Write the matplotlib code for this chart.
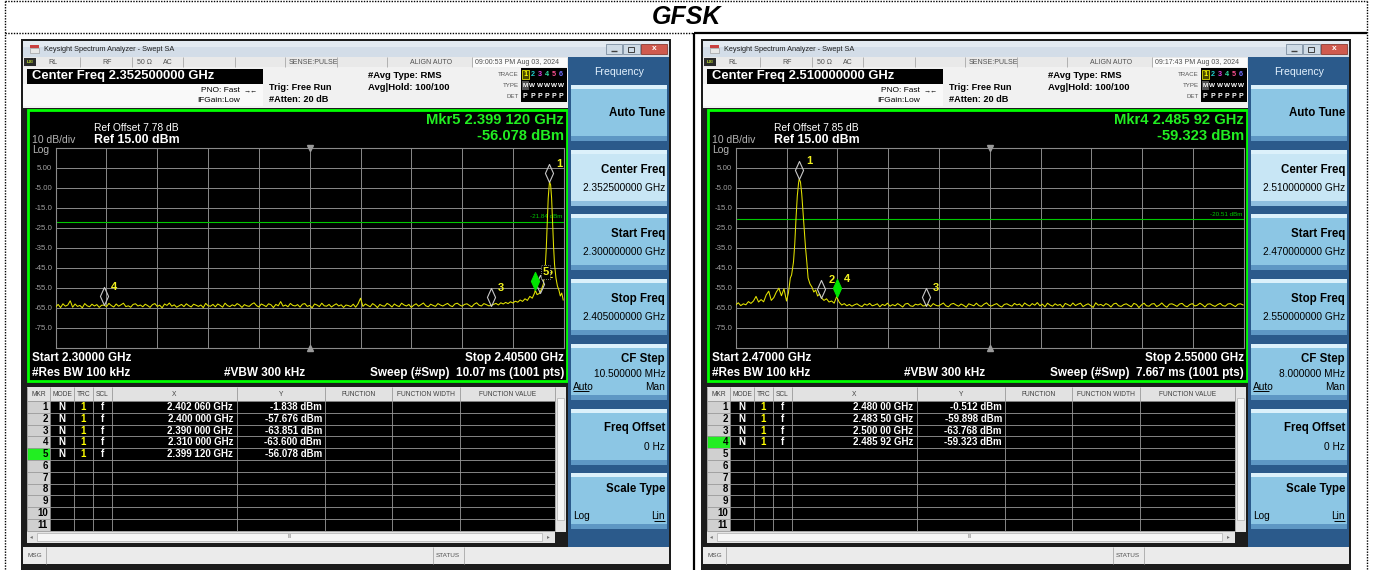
import numpy as np
import matplotlib
matplotlib.use('Agg')
import matplotlib.pyplot as plt
from matplotlib.patches import Rectangle
from matplotlib.path import Path

plt.rcParams['font.family'] = ['Liberation Sans', 'DejaVu Sans']

W, H = 1373, 570

# ------------------------------------------------------------------ data
header_title = "GFSK"

# ---- left capture (2.300 - 2.405 GHz)
left_start_ghz, left_stop_ghz, left_center_ghz = 2.300, 2.405, 2.3525
left_noise_step_ghz = 0.0005
left_noise_dbm = [
    -64.5, -63.2, -64.8, -62.9, -64.1, -63.5, -61.4, -64.6, -63.0, -64.2, -63.7, -64.9, -62.8, -63.9, -64.4, -63.1, -64.0, -63.3, -64.7, -63.6,
    -63.6, -64.3, -62.7, -63.8, -64.5, -63.0, -64.1, -63.4, -62.6, -64.3, -63.9, -64.6, -63.2, -62.9, -64.0, -63.5, -64.4, -63.1, -63.8, -64.7,
    -63.3, -62.8, -64.2, -63.6, -64.9, -63.0, -63.7, -62.5, -64.1, -63.4, -64.6, -63.9, -63.2, -64.3, -62.9, -63.8, -64.5, -63.1, -63.6, -64.2,
    -63.5, -64.8, -62.7, -63.9, -64.1, -63.2, -64.4, -63.0, -63.7, -64.6, -62.6, -63.8, -64.3, -63.4, -64.0, -62.8, -63.5, -64.7, -63.3, -63.9,
    -64.2, -63.1, -62.4, -63.8, -64.5, -63.0, -63.6, -64.3, -62.9, -63.4, -64.8, -63.2, -63.9, -61.8, -64.1, -63.5, -64.4, -62.7, -63.7, -64.0,
    -63.3, -64.6, -63.1, -62.8, -64.2, -63.7, -64.9, -63.0, -63.5, -64.3, -62.6, -63.9, -64.1, -63.2, -64.5, -63.6, -62.9, -64.0, -63.4, -64.7,
    -63.5, -63.8, -64.3, -63.1, -64.6, -62.9, -60.1, -64.2, -63.0, -63.7, -64.4, -62.8, -63.6, -64.8, -63.2, -63.9, -64.1, -62.7, -63.4, -64.5,
    -63.0, -63.8, -64.3, -62.6, -63.5, -64.0, -63.2, -64.7, -63.6, -62.9, -64.1, -63.3, -62.5, -63.9, -64.4, -63.1, -63.7, -64.2, -62.8, -63.5,
    -64.0, -63.3, -62.7, -63.8, -64.3, -63.0, -62.6, -63.5, -64.1, -63.2, -62.9, -63.7, -64.4, -63.1, -62.4, -63.6, -64.0, -62.8, -63.3, -63.9,
    -63.8, -63.2, -62.7, -63.5, -62.4, -63.0, -62.2, -62.8, -61.9, -62.5, -61.6, -62.1, -61.0, -61.7, -60.4, -61.2,
]
left_peak_ghz = [2.3980, 2.3985, 2.3990, 2.39912, 2.3995, 2.4000, 2.4005, 2.4008, 2.4010, 2.4012, 2.4014,
                 2.4016, 2.4018, 2.40206, 2.4023, 2.4025, 2.4027, 2.4029, 2.4031, 2.4034, 2.4037, 2.4040,
                 2.4043, 2.4046, 2.4049]
left_peak_dbm = [-59.2, -60.1, -57.4, -56.08, -58.3, -57.68, -55.0, -53.0, -48.0, -44.0, -35.0,
                 -22.0, -10.0, -1.84, -3.5, -10.0, -22.0, -34.0, -43.0, -50.0, -54.0, -56.0,
                 -59.0, -57.5, -61.0]
left_mkr_ghz = [2.402060, 2.400000, 2.390000, 2.310000, 2.399120]
left_mkr_dbm = [-1.838, -57.676, -63.851, -63.600, -56.078]
left_active = 5
left_ref_line = -21.84

# ---- right capture (2.470 - 2.550 GHz)
right_start_ghz, right_stop_ghz, right_center_ghz = 2.470, 2.550, 2.510
right_noise_step_ghz = 0.0004
right_lo_start_ghz = 2.4700
right_lo_dbm = [-63.5, -62.4, -63.8, -62.9, -63.4, -61.8, -62.7, -61.5, -59.2, -62.0, -60.8,
                -61.9, -58.5, -56.6, -61.2, -59.8, -57.0, -55.1, -58.9, -55.4, -61.5]
right_peak_ghz = [2.4783, 2.4786, 2.4788, 2.4791, 2.4793, 2.4795, 2.4797, 2.4799, 2.4800, 2.4802,
                  2.4804, 2.4806, 2.4808, 2.4810, 2.4812, 2.4814, 2.4817, 2.4820, 2.4823, 2.4826,
                  2.4829, 2.4832, 2.4835]
right_peak_dbm = [-57.5, -50.0, -48.5, -42.0, -33.0, -20.0, -9.0, -2.5, -0.51, -2.0,
                  -8.0, -17.0, -26.0, -35.0, -42.0, -50.0, -53.0, -54.5, -57.0, -56.0,
                  -59.0, -58.0, -59.9]
right_hi_start_ghz = 2.4839
right_hi_dbm = [
    -61.2, -60.4, -62.0, -61.5, -62.6, -59.3, -62.1, -63.5, -62.8, -63.9, -63.2, -64.1, -63.4, -62.9, -63.8, -64.3, -63.0, -63.6, -62.7, -63.9,
    -63.5, -62.9, -64.4, -63.2, -63.8, -62.6, -64.1, -63.3, -63.9, -62.8, -63.6, -64.5, -63.0, -62.7, -63.9, -64.2, -63.1, -63.5, -62.9, -64.0,
    -63.8, -63.2, -64.3, -62.8, -63.6, -64.0, -63.3, -62.5, -63.9, -64.4, -63.1, -62.7, -63.5, -64.1, -63.0, -63.7, -64.6, -62.9, -63.4, -63.9,
    -62.6, -63.8, -64.2, -63.1, -62.4, -63.7, -64.0, -63.3, -62.8, -63.9, -64.5, -63.2, -62.9, -63.6, -64.1, -62.7, -63.5, -63.0, -64.3, -62.5,
    -63.4, -64.0, -62.8, -63.6, -62.3, -63.9, -63.1, -64.4, -62.6, -63.5, -64.1, -62.9, -63.7, -63.2, -64.6, -62.7, -63.3, -64.0, -62.5, -63.8,
    -63.1, -62.6, -64.3, -63.5, -62.9, -63.8, -64.7, -62.4, -63.6, -63.2, -64.0, -62.8, -63.4, -64.5, -63.0, -62.6, -63.9, -64.2, -63.3, -62.9,
    -63.7, -64.4, -62.7, -63.2, -64.8, -63.5, -62.6, -63.9, -64.1, -63.0, -62.8, -64.3, -63.6, -62.5, -63.8, -64.6, -63.1, -62.9, -63.5, -64.2,
    -63.0, -62.7, -63.9, -64.4, -63.3, -62.8, -64.0, -63.6, -62.6, -63.4, -64.5, -63.1, -62.9, -63.7, -64.2, -63.3, -62.7, -63.8, -64.1, -63.0,
    -62.8, -63.6, -64.3, -63.1, -62.9, -63.5,
]
right_mkr_ghz = [2.48000, 2.48350, 2.50000, 2.48592]
right_mkr_dbm = [-0.512, -59.898, -63.768, -59.323]
right_active = 4
right_ref_line = -20.51

left_texts = dict(center="2.352500000 GHz", time="09:00:53 PM Aug 03, 2024", offset="7.78",
                  start="2.30000 GHz", stop="2.40500 GHz", sweep="10.07 ms (1001 pts)",
                  sk_start="2.300000000 GHz", sk_stop="2.405000000 GHz", cfstep="10.500000 MHz",
                  xdec=6)
right_texts = dict(center="2.510000000 GHz", time="09:17:43 PM Aug 03, 2024", offset="7.85",
                   start="2.47000 GHz", stop="2.55000 GHz", sweep="7.667 ms (1001 pts)",
                   sk_start="2.470000000 GHz", sk_stop="2.550000000 GHz", cfstep="8.000000 MHz",
                   xdec=5)

# ------------------------------------------------------------------ helpers
fig = plt.figure(figsize=(W / 100, H / 100), dpi=100)
fig.patch.set_facecolor('white')
bg = fig.add_axes([0, 0, 1, 1])
bg.set_xlim(0, W)
bg.set_ylim(H, 0)
bg.axis('off')
bg.set_zorder(0)


def R(x, y, w, h, fc, ec='none', lw=0.0, z=1):
    bg.add_patch(Rectangle((x, y), w, h, facecolor=fc, edgecolor=ec, linewidth=lw, zorder=z))


def T(x, y, s, size, color='black', weight='normal', ha='left', va='center', z=5, style='normal'):
    bg.text(x, y, s, fontsize=size, color=color, fontweight=weight, ha=ha, va=va,
            zorder=z, fontstyle=style)


def L(xs, ys, color, lw=0.6, z=3, ls='-'):
    bg.plot(xs, ys, color=color, lw=lw, zorder=z, ls=ls, solid_capstyle='butt')


def fmt_ghz(v, nd):
    s = f"{v:.{nd}f}"
    ip, fp = s.split('.')
    return f"{ip}.{fp[:3]} {fp[3:]}"


diamond = Path([(0, 0), (0.45, 1), (0, 2), (-0.45, 1), (0, 0)],
               [Path.MOVETO, Path.LINETO, Path.LINETO, Path.LINETO, Path.CLOSEPOLY])


def draw_panel(dx, tx, freqs, dbm, start, stop, center, ref_line, mk_f, mk_d, active):
    # window frame
    R(dx + 21, 39, 650, 531, '#1c1c1c')
    # title bar
    R(dx + 23, 41, 646, 16, '#d3dde8')
    R(dx + 23, 41, 646, 6, '#e3eaf1')
    R(dx + 30, 45, 9, 3, '#c84040')
    R(dx + 30, 48, 9, 5, '#e8e8e8', ec='#909090', lw=0.4)
    T(dx + 44, 49.5, 'Keysight Spectrum Analyzer - Swept SA', 5.3, '#202020')
    R(dx + 606, 44, 16, 10, '#cfdbe6', ec='#7d8ea0', lw=0.6, z=2)
    R(dx + 623, 44, 17, 10, '#cfdbe6', ec='#7d8ea0', lw=0.6, z=2)
    R(dx + 641, 44, 26, 10, '#cf5a4e', ec='#8a3a30', lw=0.6, z=2)
    L([dx + 611, dx + 617], [51, 51], '#404040', 1.0)
    R(dx + 628, 46.5, 6, 5, 'none', ec='#404040', lw=0.7, z=3)
    T(dx + 654, 49, 'x', 6, 'white', 'bold', ha='center')

    # status row
    R(dx + 23, 57, 545, 10, '#e9e9e9')
    R(dx + 24, 58, 12, 8, '#2a2a2a', z=2)
    T(dx + 30, 62, 'LXI', 3.2, '#c8e830', 'bold', ha='center')
    for xd in [80, 132, 183, 235, 285, 337, 387, 472]:
        L([dx + xd, dx + xd], [57, 67], '#a8a8a8', 0.6)
    R(dx + 473, 57.5, 94, 9, '#fbfbfb', z=2)
    for xs, s in [(48, 'RL'), (102, 'RF'), (137, '50 Ω'), (163, 'AC'), (289, 'SENSE:PULSE'),
                  (410, 'ALIGN AUTO'), (475, tx['time'])]:
        T(dx + xs, 62, s, 5.0, '#505050')

    # info area
    R(dx + 23, 67, 545, 41, '#f1f1f1')
    R(dx + 23, 84, 240, 22, '#f9f9f9')
    R(dx + 27, 69, 236, 15, 'black', z=2)
    T(dx + 32, 76.5, 'Center Freq ' + tx['center'], 9.4, 'white', 'bold')
    T(dx + 240, 90.5, 'PNO: Fast', 6.0, ha='right')
    T(dx + 240, 101, 'IFGain:Low', 6.0, ha='right')
    T(dx + 251, 90.5, '→←', 5.0, ha='center')
    T(dx + 269, 87, 'Trig: Free Run', 6.6, weight='bold')
    T(dx + 269, 100, '#Atten: 20 dB', 6.6, weight='bold')
    T(dx + 368, 75.5, '#Avg Type: RMS', 6.8, weight='bold')
    T(dx + 368, 87, 'Avg|Hold: 100/100', 6.8, weight='bold')
    T(dx + 519, 74, 'TRACE', 4.4, '#555555', ha='right')
    T(dx + 519, 85.5, 'TYPE', 4.4, '#555555', ha='right')
    T(dx + 519, 96.5, 'DET', 4.4, '#555555', ha='right')
    R(dx + 521, 68, 46, 34, 'black', z=2)
    R(dx + 522, 69.5, 6.5, 9, '#4a4a00', ec='#e0e000', lw=0.6, z=3)
    R(dx + 522, 81, 6.5, 9, '#505050', z=3)
    tcols = ['#ffff00', '#20d0d0', '#e040e0', '#30e0a0', '#ff5090', '#7070ff']
    for k in range(6):
        xk = dx + 525.2 + 7.2 * k
        T(xk, 74, str(k + 1), 5.2, tcols[k], 'bold', ha='center')
        T(xk, 85.5, 'M' if k == 0 else 'W', 4.6, 'white', 'bold', ha='center')
        T(xk, 96.5, 'P', 5.0, 'white', 'bold', ha='center')

    # graph panel
    R(dx + 28, 110, 539, 271, 'black', ec='#00ff00', lw=2.0, z=2)
    T(dx + 94, 128, f"Ref Offset {tx['offset']} dB", 7.4, 'white')
    T(dx + 94, 140, 'Ref 15.00 dBm', 8.9, 'white', 'bold')
    T(dx + 32, 140, '10 dB/div', 7.5, '#b4b4b4')
    T(dx + 32, 150, 'Log', 7.5, '#b4b4b4')
    T(dx + 564, 120.5, f"Mkr{active} {fmt_ghz(mk_f[active - 1], tx['xdec'])} GHz", 10.6,
      '#22ee22', 'bold', ha='right')
    T(dx + 564, 136.5, f"{mk_d[active - 1]:.3f} dBm", 10.6, '#22ee22', 'bold', ha='right')
    T(dx + 32, 358.3, 'Start ' + tx['start'], 8.5, 'white', 'bold')
    T(dx + 32, 372.7, '#Res BW 100 kHz', 8.5, 'white', 'bold')
    T(dx + 224, 372.7, '#VBW 300 kHz', 8.5, 'white', 'bold')
    T(dx + 564, 358.3, 'Stop ' + tx['stop'], 8.5, 'white', 'bold', ha='right')
    T(dx + 564, 372.7, 'Sweep (#Swp)  ' + tx['sweep'], 8.5, 'white', 'bold', ha='right')

    # marker table
    cols = [27, 50, 74, 93, 112, 237, 325, 392, 460, 555]
    heads = ['MKR', 'MODE', 'TRC', 'SCL', 'X', 'Y', 'FUNCTION', 'FUNCTION WIDTH', 'FUNCTION VALUE']
    R(dx + 27, 387, 539, 14, '#e2e2e2', z=2)
    for i, hd in enumerate(heads):
        T(dx + (cols[i] + cols[i + 1]) / 2, 394.5, hd, 4.8, '#404040', ha='center')
    rt, rh, nr = 401.0, 11.8, 11
    R(dx + 27, rt, 23, nr * rh, '#d0d0d0', z=2)
    R(dx + 50, rt, 505, nr * rh, 'black', z=2)
    for r in range(nr + 1):
        L([dx + 27, dx + 555], [rt + r * rh, rt + r * rh], '#9a9a9a', 0.6)
    for c in cols:
        L([dx + c, dx + c], [387, rt + nr * rh], '#9a9a9a', 0.6)
    R(dx + 27, rt + (active - 1) * rh, 23, rh, '#22ee22', z=2.5)
    for r in range(nr):
        yc = rt + (r + 0.5) * rh
        T(dx + 48, yc, str(r + 1), 7, 'black', 'bold', ha='right')
    for r, (f, d) in enumerate(zip(mk_f, mk_d)):
        yc = rt + (r + 0.5) * rh
        T(dx + 62, yc, 'N', 7, 'white', 'bold', ha='center')
        T(dx + 83.5, yc, '1', 7, '#ffff00', 'bold', ha='center')
        T(dx + 102.5, yc, 'f', 7, 'white', 'bold', ha='center')
        T(dx + 233, yc, fmt_ghz(f, tx['xdec']) + ' GHz', 7, 'white', 'bold', ha='right')
        T(dx + 322, yc, f"{d:.3f} dBm", 7, 'white', 'bold', ha='right')
    # scrollbars
    R(dx + 555, 387, 11, 145, '#e4e4e4', z=2)
    R(dx + 557, 398, 7, 122, '#f6f6f6', ec='#b0b0b0', lw=0.5, z=2.5)
    R(dx + 27, 531, 528, 12, '#e4e4e4', z=2)
    R(dx + 37, 533, 505, 8, '#f6f6f6', ec='#b0b0b0', lw=0.5, z=2.5)
    T(dx + 290, 537, 'III', 3.5, '#707070', ha='center')
    T(dx + 31, 537, '◂', 4, '#707070', ha='center')
    T(dx + 548, 537, '▸', 4, '#707070', ha='center')
    # message bar
    R(dx + 23, 547, 646, 17, '#ebebeb', z=2)
    T(dx + 28, 555.5, 'MSG', 4.6, '#505050')
    L([dx + 46, dx + 46], [547, 564], '#a8a8a8', 0.6)
    L([dx + 433, dx + 433], [547, 564], '#a8a8a8', 0.6)
    L([dx + 464, dx + 464], [547, 564], '#a8a8a8', 0.6)
    T(dx + 436, 555.5, 'STATUS', 4.6, '#505050')

    # soft keys
    R(dx + 568, 57, 101, 490, '#2b5a8b', z=2)
    T(dx + 619, 71.7, 'Frequency', 7.6, '#e4f2ff', ha='center')
    keys = [('Auto Tune', None), ('Center Freq', tx['center']), ('Start Freq', tx['sk_start']),
            ('Stop Freq', tx['sk_stop']), ('CF Step', tx['cfstep']), ('Freq Offset', '0 Hz'),
            ('Scale Type', None)]
    for i, (name, val) in enumerate(keys):
        top = 85 + 64.7 * i
        base = '#c8e6f5' if i == 1 else '#8cc6e4'
        R(dx + 571, top, 96, 56, base, z=2.2)
        R(dx + 571, top, 96, 4, '#dcf1fb', z=2.3)
        R(dx + 571, top + 51, 96, 5, '#5e97c4' if i != 1 else '#8fbfdf', z=2.3)
        xr = dx + 665
        if name == 'Auto Tune':
            T(xr, top + 28, name, 8.3, 'black', 'bold', ha='right')
        elif name == 'CF Step':
            T(xr, top + 15.3, name, 8.3, 'black', 'bold', ha='right')
            T(xr, top + 30.3, val, 7.3, 'black', ha='right')
            T(dx + 573, top + 42.7, 'Auto', 7.3, 'black')
            L([dx + 573, dx + 589], [top + 47.5, top + 47.5], 'black', 0.7)
            T(xr, top + 42.7, 'Man', 7.3, 'black', ha='right')
        elif name == 'Scale Type':
            T(xr, top + 16, name, 8.3, 'black', 'bold', ha='right')
            T(dx + 573, top + 43, 'Log', 7.3, 'black')
            T(xr, top + 43, 'Lin', 7.3, 'black', ha='right')
            L([dx + 654, dx + 665], [top + 47.8, top + 47.8], 'black', 0.7)
        else:
            T(xr, top + 20, name, 8.3, 'black', 'bold', ha='right')
            T(xr, top + 38, val, 7.3, 'black', ha='right')

    # spectrum axes
    ax = fig.add_axes([(55.7 + dx) / W, (H - 348) / H, 508 / W, 200 / H])
    ax.set_zorder(3)
    ax.set_facecolor('none')
    ax.set_xlim(start, stop)
    ax.set_ylim(-85, 15)
    ax.set_xticks(np.linspace(start, stop, 11)[1:-1])
    yt = np.arange(-75, 6, 10)
    ax.set_yticks(yt)
    ax.set_yticklabels([f"{v:.2f}" if abs(v) < 10 else f"{v:.1f}" for v in yt])
    ax.tick_params(axis='x', length=0, labelbottom=False)
    ax.tick_params(axis='y', length=0, labelsize=5.7, labelcolor='#a0a0a0', pad=2.5)
    ax.grid(True, color='#8a8a8a', lw=0.7)
    for s in ax.spines.values():
        s.set_color('#8a8a8a')
        s.set_linewidth(0.8)
    ax.axhline(ref_line, color='#00c800', lw=0.8, zorder=2)
    ax.text(stop - (stop - start) * 0.002, ref_line + 1.2, f"{ref_line:.2f} dBm", color='#00c800',
            fontsize=4.5, ha='right', va='bottom')
    ax.plot([center], [15], marker='v', ms=5, color='#9a9a9a', clip_on=False, zorder=3)
    ax.plot([center], [-85], marker='^', ms=5, color='#9a9a9a', clip_on=False, zorder=3)
    ax.plot(freqs, dbm, color='#e4e400', lw=0.75, zorder=4)
    order = [i for i in range(len(mk_f)) if i != active - 1] + [active - 1]
    for i in order:
        act = (i == active - 1)
        ax.plot([mk_f[i]], [mk_d[i]], marker=diamond, ms=26, linestyle='none',
                markerfacecolor='#00e600' if act else 'none',
                markeredgecolor='#00e600' if act else '#c8c8c8', markeredgewidth=0.8,
                clip_on=False, zorder=6)
        box = None
        if act and dx == 0:
            box = dict(boxstyle='square,pad=0.15', facecolor='black', edgecolor='#b0b0b0',
                       linestyle=':', linewidth=0.6)
        ax.annotate(str(i + 1), (mk_f[i], mk_d[i]), xytext=(7, 18), textcoords='offset pixels',
                    color='#f0f020', fontsize=8, fontweight='bold', ha='left', va='center',
                    zorder=7, bbox=box)


# ------------------------------------------------------------------ page
# dotted outer cell borders
L([5, 1367], [1, 1], 'black', 1.0, ls=(0, (1, 1)))
L([5, 5], [1, 570], 'black', 1.0, ls=(0, (1, 1)))
L([1367, 1367], [1, 570], 'black', 1.0, ls=(0, (1, 1)))
L([5, 694], [32.5, 32.5], 'black', 1.0, ls=(0, (1, 1)))
L([694, 1367], [32.5, 32.5], 'black', 1.6)
L([694, 694], [32.5, 570], 'black', 1.6)
T(686, 17, header_title, 18, 'black', 'bold', ha='center', style='italic')

left_f = np.concatenate([left_start_ghz + left_noise_step_ghz * np.arange(len(left_noise_dbm)),
                         np.array(left_peak_ghz)])
left_d = np.concatenate([np.array(left_noise_dbm), np.array(left_peak_dbm)])
right_f = np.concatenate([right_lo_start_ghz + right_noise_step_ghz * np.arange(len(right_lo_dbm)),
                          np.array(right_peak_ghz),
                          right_hi_start_ghz + right_noise_step_ghz * np.arange(len(right_hi_dbm))])
right_d = np.concatenate([np.array(right_lo_dbm), np.array(right_peak_dbm), np.array(right_hi_dbm)])

draw_panel(0, left_texts, left_f, left_d, left_start_ghz, left_stop_ghz, left_center_ghz,
           left_ref_line, left_mkr_ghz, left_mkr_dbm, left_active)
draw_panel(680, right_texts, right_f, right_d, right_start_ghz, right_stop_ghz, right_center_ghz,
           right_ref_line, right_mkr_ghz, right_mkr_dbm, right_active)

fig.savefig('out.png', dpi=100, facecolor='white')
